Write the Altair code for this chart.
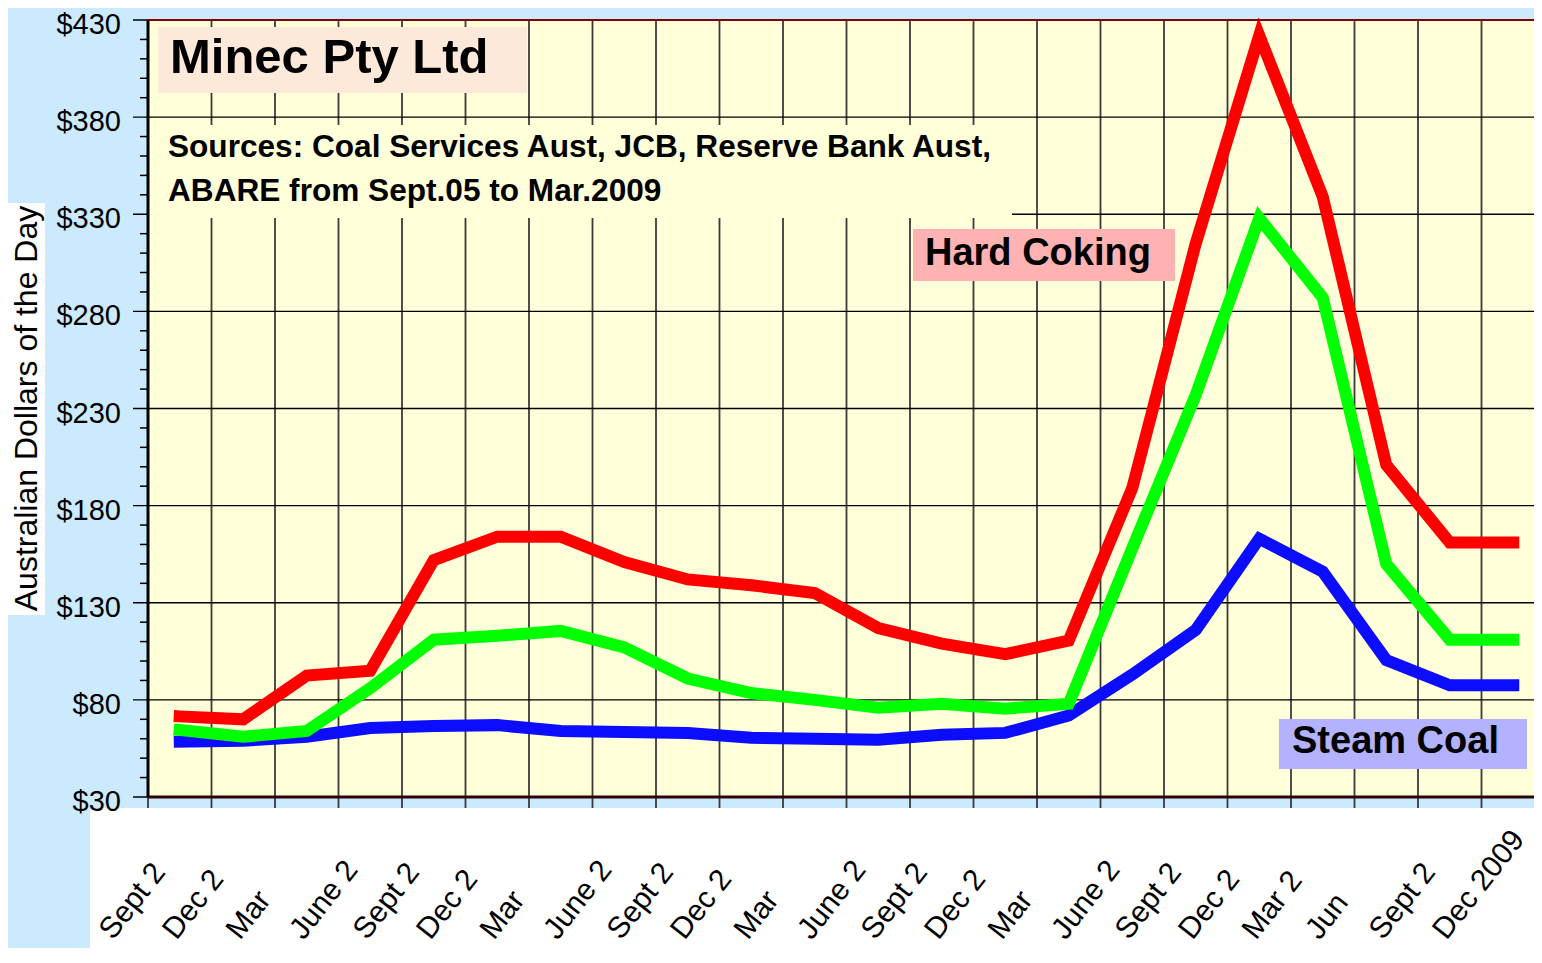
import altair as alt
import pandas as pd

# ---------------- data ----------------
quarter_labels = ["Sept 2", "Dec 2", "Mar", "June 2", "Sept 2", "Dec 2", "Mar", "June 2",
                  "Sept 2", "Dec 2", "Mar", "June 2", "Sept 2", "Dec 2", "Mar", "June 2",
                  "Sept 2", "Dec 2", "Mar 2", "Jun", "Sept 2", "Dec 2009"]
hard_coking = [71.5, 70, 92.5, 95, 152, 164, 164, 151, 142, 139, 135, 117,
               109, 103.5, 110.5, 189, 315, 422, 339, 201, 161, 161]
mid_grade = [64.5, 61, 64, 86, 111, 113, 115.5, 107, 91, 83.5, 80, 76,
             78, 75.5, 78, 158, 237, 328, 287, 150, 111, 111]
steam_coal = [58.5, 59, 61, 65.5, 66.5, 67, 64, 63.5, 63, 60.5, 60, 59.5,
              62, 63, 72, 93, 116, 163, 146, 100.5, 87.5, 87.5]
y_ticks = list(range(30, 431, 50))
y_minor = [v for v in range(30, 431, 10) if (v - 30) % 50]
x_grid = list(range(len(quarter_labels)))

idx = list(range(len(quarter_labels)))
rows = []
for name, vals in [("Steam Coal", steam_coal), ("Mid", mid_grade), ("Hard Coking", hard_coking)]:
    for i, v in zip(idx, vals):
        rows.append({"series": name, "idx": i, "price": v})
df = pd.DataFrame(rows)
lab_df = pd.DataFrame({"idx": idx, "label": quarter_labels})
minor_df = pd.DataFrame({"v": y_minor})
ytick_df = pd.DataFrame({"v": y_ticks})
xgrid_df = pd.DataFrame({"g": x_grid})

# ---------------- styling ----------------
W, H = 1386, 777
BAND = 63.5                      # pixel width of one quarter
FONT = "Liberation Sans"
BG = "#CBEAFE"
PLOT_BG = "#FFFFD9"
one = alt.Data(values=[{"k": 0}])

# the plot runs slightly past the last quarter, as in the original
xscale = alt.Scale(domain=[0, W / BAND], nice=False, zero=False)
yscale = alt.Scale(domain=[30, 430], nice=False, zero=False)


def box(x1, x2, y1, y2, color):
    return alt.Chart(one).mark_rect(color=color).encode(
        x=alt.value(x1), x2=alt.value(x2), y=alt.value(y1), y2=alt.value(y2))


def txt(text, x, y, size, bold=True, angle=0, align="left", baseline="alphabetic"):
    return alt.Chart(one).mark_text(
        text=text, font=FONT, fontSize=size, fontWeight="bold" if bold else "normal",
        align=align, baseline=baseline, angle=angle, color="black"
    ).encode(x=alt.value(x), y=alt.value(y))


def series_line(name, color):
    return alt.Chart(df).transform_filter(alt.datum.series == name).transform_calculate(
        pos="datum.idx + 0.5"
    ).mark_line(color=color, strokeWidth=12, strokeCap="square", strokeJoin="miter").encode(
        x=alt.X("pos:Q", scale=xscale, axis=None),
        y=alt.Y("price:Q", scale=yscale, axis=None),
        order="idx:Q",
    )


# grid lines / ticks drawn through the scales
vgrid = alt.Chart(xgrid_df).mark_rule(color="#3a3a3a", strokeWidth=1.8).encode(
    x=alt.X("g:Q", scale=xscale, axis=None), y=alt.value(0), y2=alt.value(H + 12))
hgrid = alt.Chart(ytick_df).mark_rule(color="black", strokeWidth=1.3).encode(
    y=alt.Y("v:Q", scale=yscale, axis=None), x=alt.value(-15), x2=alt.value(W))
minor = alt.Chart(minor_df).mark_rule(color="black", strokeWidth=1.5).encode(
    y=alt.Y("v:Q", scale=yscale, axis=None), x=alt.value(-8), x2=alt.value(0))
ylabels = alt.Chart(ytick_df).transform_calculate(t="'$' + datum.v").mark_text(
    font=FONT, fontSize=29, align="right", baseline="middle", color="black", dy=5
).encode(y=alt.Y("v:Q", scale=yscale, axis=None), x=alt.value(-27), text="t:N")
left_domain = alt.Chart(one).mark_rule(color="black", strokeWidth=3).encode(
    x=alt.value(0), y=alt.value(0), y2=alt.value(H))
bottom_domain = alt.Chart(one).mark_rule(color="#2a0505", strokeWidth=3).encode(
    y=alt.value(H), x=alt.value(0), x2=alt.value(W))
top_border = alt.Chart(one).mark_rule(color="#800000", strokeWidth=2).encode(
    y=alt.value(0), x=alt.value(0), x2=alt.value(W))
xlabels = alt.Chart(lab_df).transform_calculate(lpos="datum.idx - 0.55").mark_text(
    font=FONT, fontSize=30, angle=308, align="left", baseline="alphabetic", color="black"
).encode(x=alt.X("lpos:Q", scale=xscale, axis=None), y=alt.value(921), text="label:N")

layers = [
    vgrid,
    hgrid,
    box(10, 379, 7, 73, "#FDE9D9"),
    box(0, 864, 105, 198, PLOT_BG),
    box(-140, -103, 183, 595, "white"),
    box(-58, W + 2, 788, 935, "white"),
    series_line("Steam Coal", "#0C0CFF"),
    series_line("Mid", "#00FF00"),
    series_line("Hard Coking", "#FF0000"),
    minor,
    left_domain,
    bottom_domain,
    top_border,
    ylabels,
    xlabels,
    txt("Minec Pty Ltd", 22, 53, 49),
    txt("Sources: Coal Services Aust, JCB, Reserve Bank Aust,", 20, 137, 31.6),
    txt("ABARE from Sept.05 to Mar.2009", 20, 181, 31.6),
    txt("Australian Dollars of the Day", -121, 388.5, 32, bold=False, angle=270,
        align="center", baseline="middle"),
    box(765, 1027, 209, 261, "#FFB2B2"),
    txt("Hard Coking", 777, 245, 38),
    box(1131, 1379, 699, 749, "#B2B2FF"),
    txt("Steam Coal", 1144, 733, 38),
]

chart = alt.layer(*layers).properties(
    width=W, height=H,
    padding={"left": 140, "top": 12, "right": 0, "bottom": 151},
    autosize=alt.AutoSizeParams(type="none"),
    background=BG,
).configure_view(fill=PLOT_BG, strokeWidth=0)

chart.save("out.html", embed_options={"renderer": "svg", "actions": False})
